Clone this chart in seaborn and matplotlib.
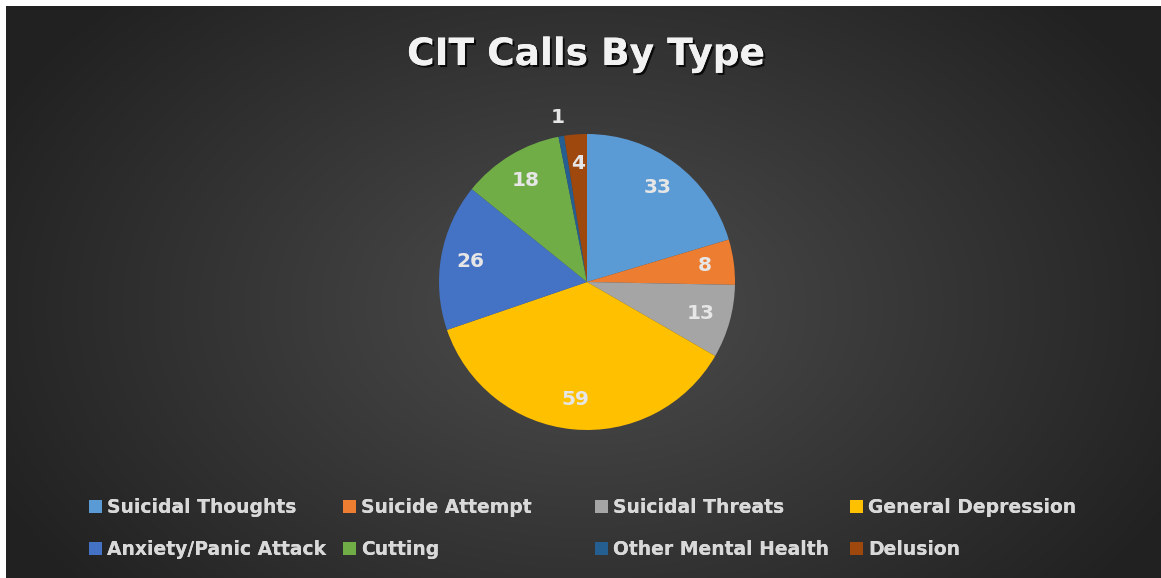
import numpy as np
import matplotlib
matplotlib.use("Agg")
import matplotlib.pyplot as plt
import matplotlib.patheffects as pe
import seaborn as sns

sns.set_theme(style="dark")
plt.rcParams['font.family'] = ['DejaVu Sans']

# data
call_types = ["Suicidal Thoughts", "Suicide Attempt", "Suicidal Threats", "General Depression",
              "Anxiety/Panic Attack", "Cutting", "Other Mental Health", "Delusion"]
call_counts = [33, 8, 13, 59, 26, 18, 1, 4]
slice_colors = ["#5B9BD5", "#ED7D31", "#A5A5A5", "#FFC000",
                "#4472C4", "#70AD47", "#255E91", "#9E480E"]

W, H = 1161, 578
fig = plt.figure(figsize=(W / 100, H / 100), dpi=100)
fig.patch.set_facecolor("white")

# dark radial gradient background
bg = fig.add_axes([6 / W, 0, (W - 6) / W, (H - 6) / H])
yy, xx = np.mgrid[0:572, 0:1155]
d = np.sqrt(((xx - 580) / 620.0) ** 2 + ((yy - 300) / 420.0) ** 2)
shade = np.clip(0.30 - 0.16 * d, 0.13, 0.30)
bg.imshow(np.dstack([shade, shade, shade]), aspect="auto", interpolation="bilinear")
bg.set_axis_off()

# pie axes, centre (587, 282) px, radius 148 px
half = 150
ax = fig.add_axes([(587 - half) / W, (H - 282 - half) / H, 2 * half / W, 2 * half / H])
ax.set_facecolor("none")

wedges, texts, autotexts = ax.pie(
    call_counts, colors=slice_colors, startangle=90, counterclock=False,
    radius=148 / half, autopct=lambda p: f"{p * sum(call_counts) / 100:.0f}",
    pctdistance=0.8, wedgeprops=dict(linewidth=0),
    textprops=dict(color="#e6e6e6", fontsize=14.5, fontweight="bold"))

# small slice label sits outside the pie
x, y = autotexts[6].get_position()
autotexts[6].set_position((x * 1.13 / 0.8, y * 1.13 / 0.8))

ax.set_xlim(-1, 1)
ax.set_ylim(-1, 1)
ax.set_aspect("equal")
ax.set_axis_off()

fig.text(586 / W, 1 - 55 / H, "CIT Calls By Type", color="#f2f2f2", fontsize=27,
         fontweight="bold", ha="center", va="center",
         path_effects=[pe.withSimplePatchShadow(offset=(1.5, -1.5), shadow_rgbFace="black", alpha=0.8),
                       pe.Normal()])

# legend: four equal-width columns, two rows each
col_x = [89, 343, 595, 850]
for c in range(4):
    idx = [c, c + 4]
    leg = fig.legend([wedges[i] for i in idx], [call_types[i] for i in idx],
                     loc="upper left", bbox_to_anchor=(col_x[c] / W, 1 - 498 / H),
                     frameon=False, labelcolor="#d9d9d9",
                     prop=dict(weight="bold", size=13.5),
                     handlelength=0.7, handleheight=0.7, handletextpad=0.25,
                     labelspacing=1.25, borderpad=0, borderaxespad=0)
    fig.add_artist(leg)

fig.savefig("out.png", dpi=100, facecolor=fig.get_facecolor())
